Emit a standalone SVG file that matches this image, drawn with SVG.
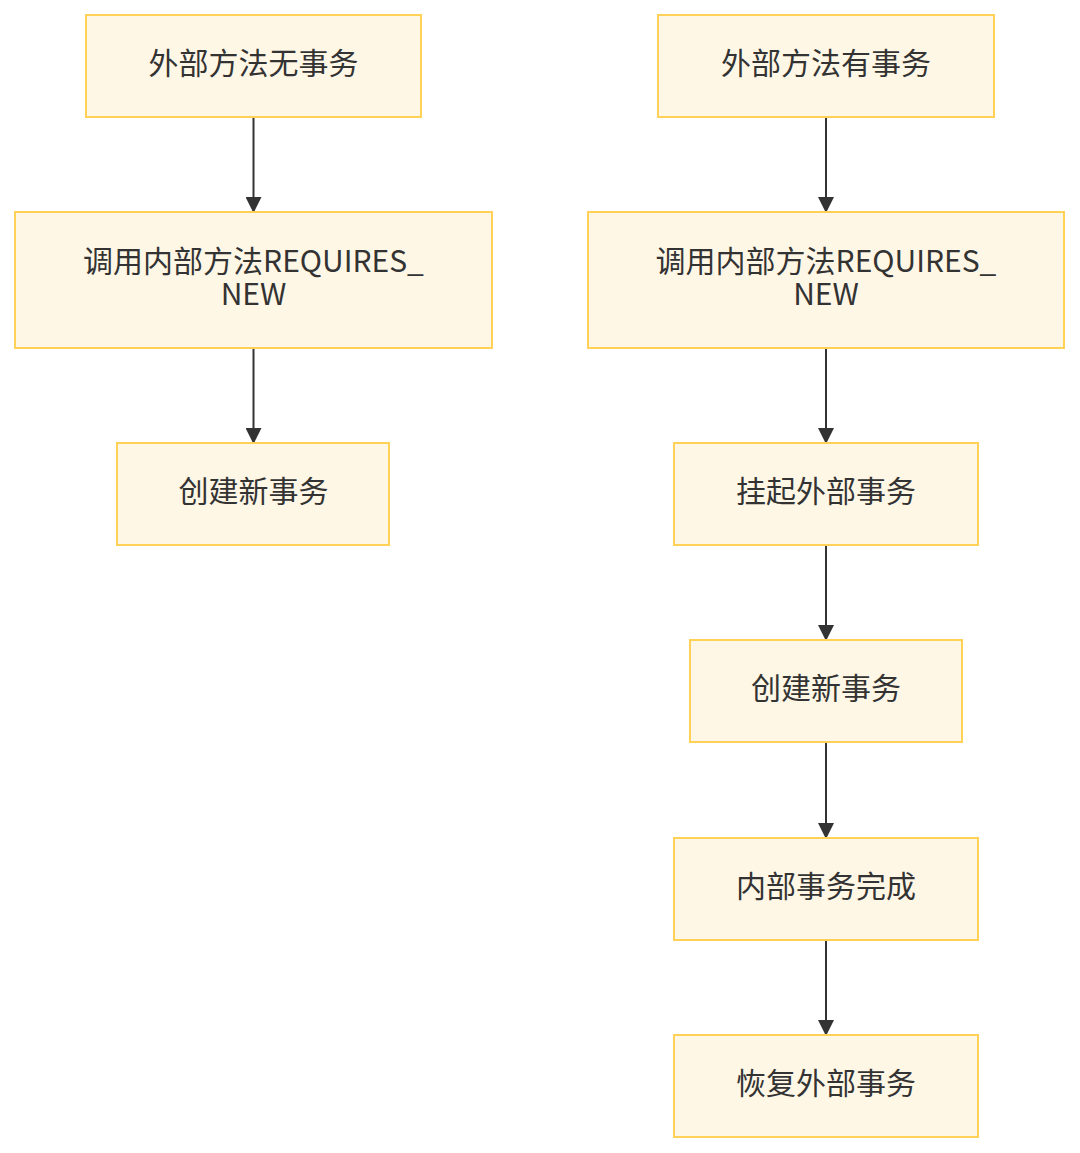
<svg xmlns="http://www.w3.org/2000/svg" width="1080" height="1153" viewBox="0 0 1080 1153">
<style>
.node rect{fill:#fff7e6;stroke:#ffd257;stroke-width:2}
.node text{font-family:"Noto Sans CJK SC","Noto Sans",sans-serif;font-size:30px;fill:#333;text-anchor:middle}
.edge{stroke:#333;stroke-width:2;fill:none;marker-end:url(#arr)}
</style>
<defs>
<marker id="arr" markerWidth="8" markerHeight="8" refX="7" refY="4" orient="auto" markerUnits="strokeWidth">
<path d="M0,0 L8,4 L0,8 z" fill="#333"/>
</marker>
</defs>
<rect width="1080" height="1153" fill="#fff"/>
<g id="connectors">
<line class="edge" x1="253.5" y1="117" x2="253.5" y2="211"/>
<line class="edge" x1="253.5" y1="348" x2="253.5" y2="442"/>
<line class="edge" x1="826" y1="117" x2="826" y2="211"/>
<line class="edge" x1="826" y1="348" x2="826" y2="442"/>
<line class="edge" x1="826" y1="545" x2="826" y2="639"/>
<line class="edge" x1="826" y1="742" x2="826" y2="837"/>
<line class="edge" x1="826" y1="940" x2="826" y2="1034"/>
</g>
<g id="n1" class="node"><rect x="86" y="15" width="335" height="102"/><text x="253.5" y="74">外部方法无事务</text></g>
<g id="n2" class="node"><rect x="15" y="212" width="477" height="136"/><text x="253.5" y="272">调用内部方法REQUIRES_<tspan x="253.5" dy="33">NEW</tspan></text></g>
<g id="n3" class="node"><rect x="117" y="443" width="272" height="102"/><text x="253.5" y="502">创建新事务</text></g>
<g id="r1" class="node"><rect x="658" y="15" width="336" height="102"/><text x="826" y="74">外部方法有事务</text></g>
<g id="r2" class="node"><rect x="588" y="212" width="476" height="136"/><text x="826" y="272">调用内部方法REQUIRES_<tspan x="826" dy="33">NEW</tspan></text></g>
<g id="r3" class="node"><rect x="674" y="443" width="304" height="102"/><text x="826" y="502">挂起外部事务</text></g>
<g id="r4" class="node"><rect x="690" y="640" width="272" height="102"/><text x="826" y="699">创建新事务</text></g>
<g id="r5" class="node"><rect x="674" y="838" width="304" height="102"/><text x="826" y="897">内部事务完成</text></g>
<g id="r6" class="node"><rect x="674" y="1035" width="304" height="102"/><text x="826" y="1094">恢复外部事务</text></g>
</svg>
